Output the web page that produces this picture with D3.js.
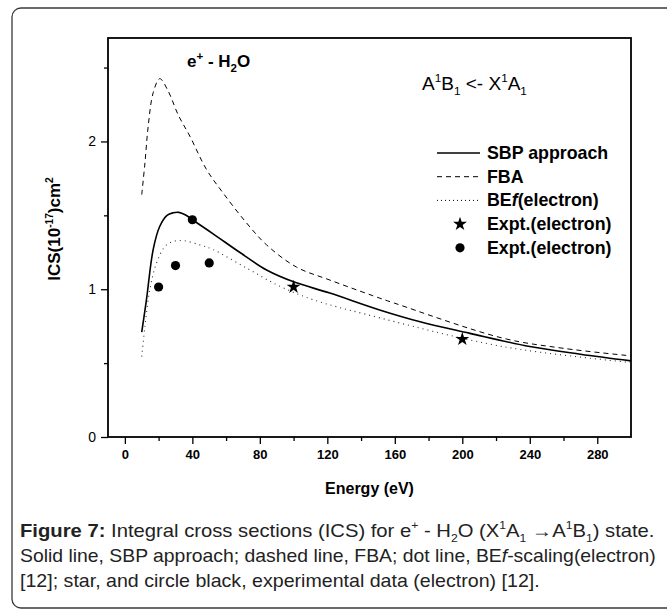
<!DOCTYPE html>
<html><head><meta charset="utf-8">
<script src="https://cdn.jsdelivr.net/npm/d3@7"></script>
<style>body{margin:0;background:#fff}svg{display:block}</style>
</head><body><svg id="c" width="667" height="611"></svg>
<script>
// ---- data ----
const sbpE = [10, 12.8, 16.8, 20.7, 25, 28.6, 32, 36, 40, 52.3, 68, 84, 100, 121.5, 151, 175, 204, 240, 270, 300];
const sbpV = [0.71, 0.93, 1.27, 1.426, 1.50, 1.517, 1.52, 1.502, 1.47, 1.375, 1.25, 1.13, 1.05, 0.974, 0.86, 0.78, 0.703, 0.612, 0.56, 0.515];
const fbaE = [10, 11.9, 13.8, 16.8, 20.7, 25.7, 31.6, 38.5, 48.4, 58.3, 72, 84, 101.7, 121.5, 147, 160, 224, 260, 300];
const fbaV = [1.64, 1.855, 2.10, 2.33, 2.425, 2.34, 2.18, 2.036, 1.81, 1.65, 1.45, 1.30, 1.15, 1.062, 0.956, 0.905, 0.669, 0.60, 0.549];
const befE = [10, 11.9, 14.8, 18.8, 24.7, 32.6, 44.4, 52.3, 72, 91.9, 111.6, 143, 224, 300];
const befV = [0.544, 0.748, 0.997, 1.178, 1.30, 1.33, 1.30, 1.268, 1.144, 1.02, 0.929, 0.83, 0.612, 0.504];
const starE = [100, 200];
const starV = [1.015, 0.662];
const circE = [20, 30, 40, 50];
const circV = [1.015, 1.16, 1.47, 1.178];
const xTicks = [0, 40, 80, 120, 160, 200, 240, 280];
const xMinor = [20, 60, 100, 140, 180, 220, 260];
const yTicks = [0, 1, 2];
const yMinor = [0.5, 1.5, 2.5];
const legendLabels = ["SBP approach", "FBA", "BEf(electron)", "Expt.(electron)", "Expt.(electron)"];

// ---- layout ----
const svg = d3.select("#c");
const L = 108, R = 631, T = 38, B = 437;
const x = d3.scaleLinear().domain([-10, 300]).range([L, R]);
const y = d3.scaleLinear().domain([0, 2.7]).range([B, T]);
const FONT = "'Liberation Sans', Arial, sans-serif";

// outer rounded border
svg.append("rect").attr("x", 12).attr("y", 8).attr("width", 720).attr("height", 600)
  .attr("rx", 9).attr("fill", "none").attr("stroke", "#3a3a3a").attr("stroke-width", 1.3);

function rich(sel, parts, size, ss) {
  ss = ss || 0.6;
  const t = sel.append("text").attr("font-size", size);
  let cur = 0;
  parts.forEach(p => {
    const ts = t.append("tspan").text(p.t);
    const target = p.sup ? -0.42 * size : p.sub ? 0.28 * size : 0;
    if (target - cur !== 0) ts.attr("dy", target - cur);
    cur = target;
    if (p.sup || p.sub) ts.attr("font-size", size * ss);
    if (p.b) ts.attr("font-weight", "bold");
    if (p.i) ts.attr("font-style", "italic");
  });
  return t;
}

// axes
const gx = svg.append("g").attr("transform", `translate(0,${B})`)
  .call(d3.axisBottom(x).tickValues(xTicks).tickSize(7).tickPadding(6).tickFormat(d3.format("d")));
svg.append("g").attr("transform", `translate(0,${B})`)
  .call(d3.axisBottom(x).tickValues(xMinor).tickSize(4).tickFormat(""));
const gy = svg.append("g").attr("transform", `translate(${L},0)`)
  .call(d3.axisLeft(y).tickValues(yTicks).tickSize(7).tickPadding(5).tickFormat(d3.format("d")));
svg.append("g").attr("transform", `translate(${L},0)`)
  .call(d3.axisLeft(y).tickValues(yMinor).tickSize(4).tickFormat(""));
svg.selectAll(".domain").remove();
svg.selectAll(".tick line").attr("stroke", "#000").attr("stroke-width", 1.3);
gx.selectAll("text").attr("font-family", FONT).attr("font-size", 13).attr("font-weight", "bold").attr("fill", "#000");
gy.selectAll("text").attr("font-family", FONT).attr("font-size", 14).attr("fill", "#000");

// frame
svg.append("rect").attr("x", L).attr("y", T).attr("width", R - L).attr("height", B - T)
  .attr("fill", "none").attr("stroke", "#000").attr("stroke-width", 1.8);

// lines
const line = d3.line().x(d => x(d[0])).y(d => y(d[1])).curve(d3.curveCatmullRom.alpha(0.5));
const zip = (a, b) => a.map((v, i) => [v, b[i]]);
svg.append("path").datum(zip(fbaE, fbaV)).attr("d", line).attr("fill", "none")
  .attr("stroke", "#000").attr("stroke-width", 1).attr("stroke-dasharray", "5,4");
svg.append("path").datum(zip(befE, befV)).attr("d", line).attr("fill", "none")
  .attr("stroke", "#333").attr("stroke-width", 1.1).attr("stroke-dasharray", "1,4");
svg.append("path").datum(zip(sbpE, sbpV)).attr("d", line).attr("fill", "none")
  .attr("stroke", "#000").attr("stroke-width", 1.6);

// markers
const star = d3.symbol().type(d3.symbolStar).size(60);
svg.selectAll(".st").data(zip(starE, starV)).join("path").attr("class", "st")
  .attr("d", star).attr("transform", d => `translate(${x(d[0])},${y(d[1])})`).attr("fill", "#000");
svg.selectAll(".ci").data(zip(circE, circV)).join("circle").attr("class", "ci")
  .attr("cx", d => x(d[0])).attr("cy", d => y(d[1])).attr("r", 4.6).attr("fill", "#000");

// legend
const lg = svg.append("g").attr("font-family", FONT).attr("font-size", 17.8).attr("font-weight", "bold");
const ly0 = 153, ldy = 23.7, lx1 = 437, lx2 = 480, ltx = 487;
const styles = [
  {dash: null, w: 1.6}, {dash: "5,4", w: 1}, {dash: "1,3", w: 1}
];
styles.forEach((s, i) => {
  const l = lg.append("line").attr("x1", lx1).attr("x2", lx2).attr("y1", ly0 + i * ldy).attr("y2", ly0 + i * ldy)
    .attr("stroke", "#000").attr("stroke-width", s.w);
  if (s.dash) l.attr("stroke-dasharray", s.dash);
});
lg.append("path").attr("d", star).attr("transform", `translate(460,${ly0 + 3 * ldy})`).attr("fill", "#000");
lg.append("circle").attr("cx", 460).attr("cy", ly0 + 4 * ldy).attr("r", 4.6).attr("fill", "#000");
legendLabels.forEach((lab, i) => {
  const t = lg.append("text").attr("x", ltx).attr("y", ly0 + i * ldy + 6);
  if (i === 2) {
    t.append("tspan").text("BE");
    t.append("tspan").attr("font-style", "italic").text("f");
    t.append("tspan").text("(electron)");
  } else t.text(lab);
});

// annotations
const a1 = rich(svg, [{t: "e", b: 1}, {t: "+", sup: 1, b: 1}, {t: " - H", b: 1}, {t: "2", sub: 1, b: 1}, {t: "O", b: 1}], 17, 0.68)
  .attr("font-family", FONT);
a1.attr("x", 187).attr("y", 67);
const a2 = rich(svg, [{t: "A"}, {t: "1", sup: 1}, {t: "B"}, {t: "1", sub: 1}, {t: " <- X"}, {t: "1", sup: 1}, {t: "A"}, {t: "1", sub: 1}], 19, 0.62)
  .attr("font-family", FONT);
a2.attr("x", 422).attr("y", 90);

// axis titles
svg.append("text").attr("x", (L + R) / 2).attr("y", 494).attr("text-anchor", "middle")
  .attr("font-family", FONT).attr("font-size", 16).attr("font-weight", "bold").text("Energy (eV)");
const yl = rich(svg, [{t: "ICS(10", b: 1}, {t: "-17", sup: 1, b: 1}, {t: ")cm", b: 1}, {t: "2", sup: 1, b: 1}], 17)
  .attr("font-family", FONT).attr("text-anchor", "middle")
  .attr("transform", "translate(60,229) rotate(-90)");

// caption
const CF = "'Liberation Sans', Arial, sans-serif";
const capLines = [
  {y: 537, w: 635, parts: [{t: "Figure 7:", b: 1}, {t: " Integral cross sections (ICS) for e"}, {t: "+", sup: 1}, {t: " - H"}, {t: "2", sub: 1}, {t: "O (X"}, {t: "1", sup: 1}, {t: "A"}, {t: "1", sub: 1}, {t: " \u2192A"}, {t: "1", sup: 1}, {t: "B"}, {t: "1", sub: 1}, {t: ") state."}]},
  {y: 562, w: 636, parts: [{t: "Solid line, SBP approach; dashed line, FBA; dot line, BE"}, {t: "f", i: 1}, {t: "-scaling(electron)"}]},
  {y: 587, w: 520, parts: [{t: "[12]; star, and circle black, experimental data (electron) [12]."}]}
];
capLines.forEach(c => {
  const t = rich(svg, c.parts, 18).attr("font-family", CF).attr("fill", "#222");
  const w = t.node().getComputedTextLength();
  t.attr("transform", `translate(20,${c.y}) scale(${c.w / w},1)`);
});
</script></body></html>
